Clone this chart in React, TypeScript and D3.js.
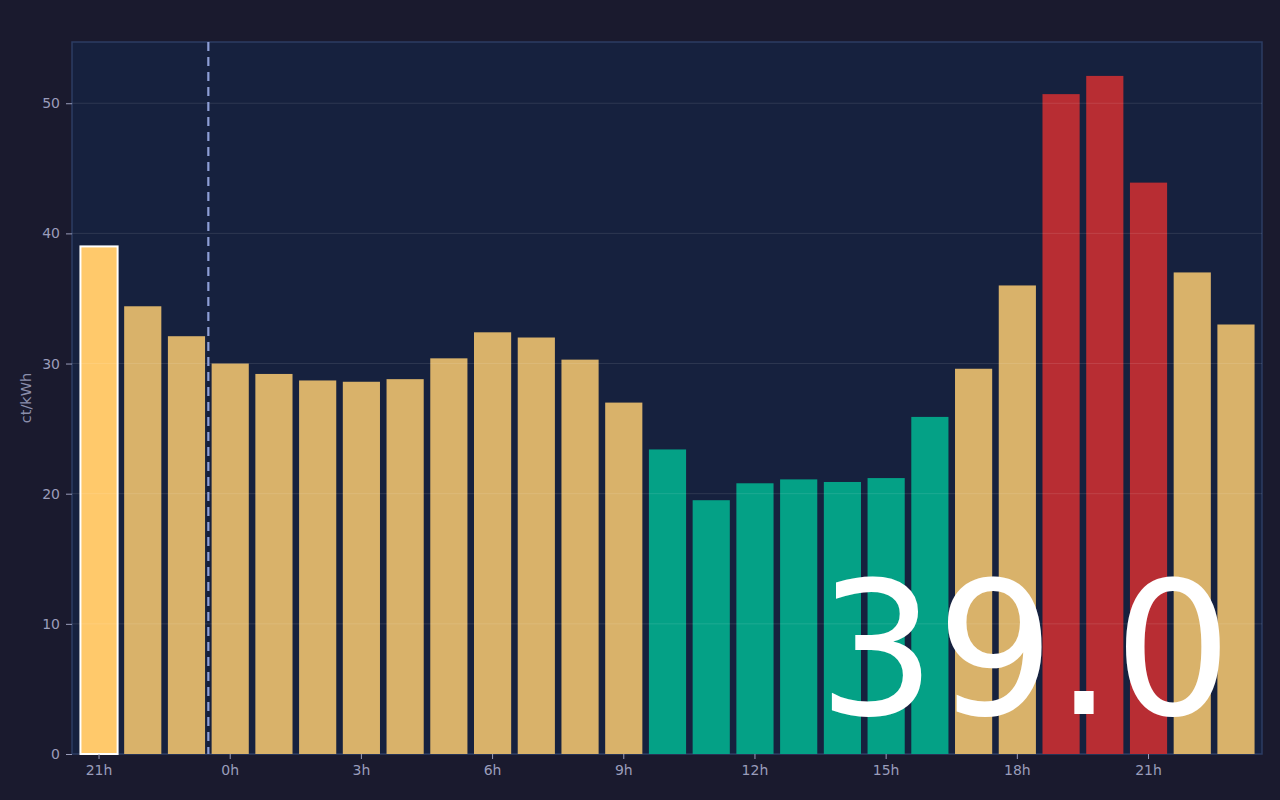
import { useRef, useEffect } from "react";
import * as d3 from "d3";

// hourly prices, 21h today through 23h tomorrow
const hours = [
  21, 22, 23, 0, 1, 2, 3, 4, 5, 6, 7, 8, 9, 10, 11, 12, 13, 14, 15, 16, 17, 18,
  19, 20, 21, 22, 23,
];
const prices = [
  39.0, 34.4, 32.1, 30.0, 29.2, 28.7, 28.6, 28.8, 30.4, 32.4, 32.0, 30.3, 27.0,
  23.4, 19.5, 20.8, 21.1, 20.9, 21.2, 25.9, 29.6, 36.0, 50.7, 52.1, 43.9, 37.0,
  33.0,
];
const yTicks = [0, 10, 20, 30, 40, 50];
const currentIndex = 0;
const unitLabel = "ct/kWh";

const W = 1280;
const H = 800;
const margin = { top: 42, right: 18, bottom: 46, left: 72 };

export default function App() {
  const ref = useRef<SVGSVGElement | null>(null);

  useEffect(() => {
    if (!ref.current) return;
    const svg = d3.select(ref.current);
    svg.selectAll("*").remove();

    const keys = hours.map((h, i) => `${i}-${h}`);
    const x = d3
      .scaleBand<string>()
      .domain(keys)
      .range([margin.left + 1, W - margin.right])
      .paddingInner(0.15)
      .paddingOuter(0.17);
    const yMax = (d3.max(prices) ?? 0) * 1.05;
    const y = d3
      .scaleLinear()
      .domain([0, yMax])
      .range([H - margin.bottom, margin.top]);

    svg
      .append("rect")
      .attr("width", W)
      .attr("height", H)
      .attr("fill", "#1a1a2e");

    svg
      .append("rect")
      .attr("x", margin.left)
      .attr("y", margin.top)
      .attr("width", W - margin.left - margin.right)
      .attr("height", H - margin.top - margin.bottom)
      .attr("fill", "#16213e")
      .attr("stroke", "#2c3c63")
      .attr("stroke-width", 1.5);

    const colorOf = (v: number) =>
      v >= 40 ? "#b82d33" : v < 26.5 ? "#04a186" : "#d9b26a";

    svg
      .append("g")
      .selectAll("rect")
      .data(prices)
      .join("rect")
      .attr("x", (_, i) => x(keys[i]) ?? 0)
      .attr("y", (d) => y(d))
      .attr("width", x.bandwidth())
      .attr("height", (d) => y(0) - y(d))
      .attr("fill", (d, i) => (i === currentIndex ? "#ffc96b" : colorOf(d)))
      .attr("stroke", (_, i) => (i === currentIndex ? "#ffffff" : "none"))
      .attr("stroke-width", 2);

    // grid lines, drawn over the bars
    svg
      .append("g")
      .selectAll("line")
      .data(yTicks.slice(1))
      .join("line")
      .attr("x1", margin.left)
      .attr("x2", W - margin.right)
      .attr("y1", (d) => y(d))
      .attr("y2", (d) => y(d))
      .attr("stroke", "#ffffff")
      .attr("stroke-opacity", 0.1);

    // midnight marker
    const midIdx = hours.indexOf(0);
    const mx = (x(keys[midIdx]) ?? 0) - (x.step() - x.bandwidth()) / 2;
    svg
      .append("line")
      .attr("x1", mx)
      .attr("x2", mx)
      .attr("y1", margin.top)
      .attr("y2", H - margin.bottom)
      .attr("stroke", "#8e9fd6")
      .attr("stroke-width", 2.2)
      .attr("stroke-dasharray", "9,6");

    const axisColor = "#9a9dbb";

    const yAxis = svg
      .append("g")
      .attr("transform", `translate(${margin.left},0)`)
      .call(
        d3
          .axisLeft(y)
          .tickValues(yTicks)
          .tickSize(6)
          .tickPadding(6) as unknown as (
          g: d3.Selection<SVGGElement, unknown, null, undefined>
        ) => void
      );
    yAxis.select(".domain").remove();
    yAxis.selectAll("line").attr("stroke", axisColor);
    yAxis
      .selectAll("text")
      .attr("fill", axisColor)
      .attr("font-size", 14)
      .attr("font-family", "DejaVu Sans");

    const xAxis = svg
      .append("g")
      .attr("transform", `translate(0,${H - margin.bottom})`)
      .call(
        d3
          .axisBottom(x)
          .tickValues(keys.filter((_, i) => i % 3 === 0))
          .tickFormat((k) => `${k.split("-")[1]}h`)
          .tickSize(5)
          .tickPadding(6) as unknown as (
          g: d3.Selection<SVGGElement, unknown, null, undefined>
        ) => void
      );
    xAxis.select(".domain").remove();
    xAxis.selectAll("line").attr("stroke", axisColor);
    xAxis
      .selectAll("text")
      .attr("fill", axisColor)
      .attr("font-size", 14)
      .attr("font-family", "DejaVu Sans");

    svg
      .append("text")
      .attr(
        "transform",
        `translate(31,${(margin.top + H - margin.bottom) / 2}) rotate(-90)`
      )
      .attr("text-anchor", "middle")
      .attr("fill", "#8a8eab")
      .attr("font-size", 14.5)
      .attr("font-family", "DejaVu Sans")
      .text(unitLabel);

    // current price readout
    svg
      .append("text")
      .attr("x", W - margin.right - 30)
      .attr("y", 714)
      .attr("text-anchor", "end")
      .attr("fill", "#ffffff")
      .attr("font-size", 186)
      .attr("font-family", "DejaVu Sans")
      .text(prices[currentIndex].toFixed(1));
  }, []);

  return (
    <svg
      ref={ref}
      width={W}
      height={H}
      style={{ position: "fixed", left: 0, top: 0, display: "block" }}
    />
  );
}
